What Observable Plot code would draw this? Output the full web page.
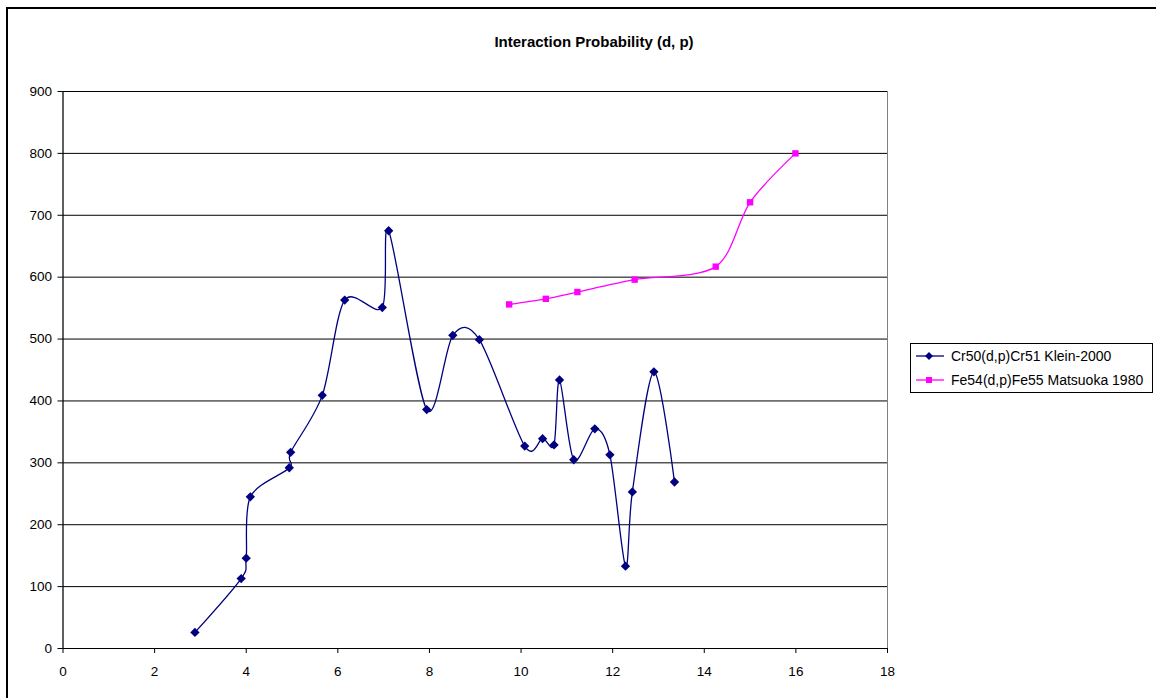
<!DOCTYPE html>
<html>
<head>
<meta charset="utf-8">
<script src="https://cdn.jsdelivr.net/npm/d3@7"></script>
<script src="https://cdn.jsdelivr.net/npm/@observablehq/plot@0.6"></script>
<style>
  html, body { margin: 0; padding: 0; background: #fff; }
  #wrap { position: relative; width: 1156px; height: 698px; overflow: hidden; font-family: "Liberation Sans", Arial, sans-serif; }
  #frame { position: absolute; left: 6px; top: 7px; width: 1200px; height: 800px; border-left: 2px solid #000; border-top: 2px solid #000; box-sizing: border-box; }
  #title { position: absolute; left: 0; width: 1188px; top: 33px; text-align: center; font-weight: bold; font-size: 15px; color: #000; }
  #legend { position: absolute; left: 910px; top: 343px; width: 243px; height: 50px; border: 1px solid #000; box-sizing: border-box; font-size: 14px; background: #fff; }
  .item { position: absolute; left: 4px; height: 16px; display: flex; align-items: center; white-space: nowrap; }
  .item svg { margin-right: 6px; }
  #plot { position: absolute; left: 0; top: 0; }
</style>
</head>
<body>
<div id="wrap">
  <div id="frame"></div>
  <div id="plot"></div>
  <div id="title">Interaction Probability (d, p)</div>
  <div id="legend"></div>
</div>
<script>
const crName = "Cr50(d,p)Cr51 Klein-2000";
const feName = "Fe54(d,p)Fe55 Matsuoka 1980";
const crX = [2.88, 3.89, 4.0, 4.09, 4.94, 4.97, 5.66, 6.15, 6.97, 7.11, 7.94, 8.51, 9.09, 10.08, 10.47, 10.72, 10.84, 11.15, 11.61, 11.94, 12.28, 12.43, 12.90, 13.35];
const crY = [26, 113, 146, 245, 292, 317, 409, 563, 551, 675, 386, 506, 499, 327, 339, 329, 434, 305, 355, 313, 133, 253, 447, 269];
const feX = [9.74, 10.54, 11.23, 12.48, 14.25, 15.0, 15.99];
const feY = [556, 565, 576, 596, 617, 721, 800];
const xTicks = [0, 2, 4, 6, 8, 10, 12, 14, 16, 18];
const yTicks = [0, 100, 200, 300, 400, 500, 600, 700, 800, 900];
const crColor = "#000080";
const feColor = "#FF00FF";

const cr = crX.map((x, i) => ({x, y: crY[i]}));
const fe = feX.map((x, i) => ({x, y: feY[i]}));

const chart = Plot.plot({
  width: 1156,
  height: 698,
  marginLeft: 62.5,
  marginRight: 269,
  marginTop: 91,
  marginBottom: 50,
  style: {fontFamily: "'Liberation Sans', Arial, sans-serif", fontSize: "13px", background: "transparent", color: "#000"},
  x: {domain: [0, 18], label: null},
  y: {domain: [0, 900], label: null},
  marks: [
    Plot.frame({stroke: "#808080", strokeWidth: 1}),
    Plot.gridY(yTicks.slice(1), {stroke: "#000", strokeOpacity: 1, strokeWidth: 1}),
    Plot.axisX(xTicks, {tickSize: 5, tickPadding: 13, fontSize: 13.5, label: null, stroke: "#000"}),
    Plot.axisY(yTicks, {tickSize: 5, tickPadding: 6, fontSize: 13.5, label: null, stroke: "#000"}),
    Plot.ruleY([0], {stroke: "#000", strokeWidth: 1}),
    Plot.ruleX([0], {stroke: "#000", strokeWidth: 1}),
    Plot.line(fe, {x: "x", y: "y", stroke: feColor, strokeWidth: 1.3, curve: "cardinal", tension: 0.1}),
    Plot.line(cr, {x: "x", y: "y", stroke: crColor, strokeWidth: 1.3, curve: "cardinal", tension: 0.1}),
    Plot.dot(fe, {x: "x", y: "y", symbol: "square", fill: feColor, r: 3.6}),
    Plot.dot(cr, {x: "x", y: "y", symbol: "diamond2", fill: crColor, r: 4.2})
  ]
});
document.getElementById("plot").appendChild(chart);

// legend
const legend = document.getElementById("legend");
[[crName, crColor, "diamond"], [feName, feColor, "square"]].forEach(([name, color, shape], i) => {
  const div = document.createElement("div");
  div.className = "item";
  div.style.top = (i === 0 ? 4 : 28) + "px";
  const marker = shape === "diamond"
    ? `<path d="M14,4 L18,8 L14,12 L10,8 Z" fill="${color}"/>`
    : `<rect x="11" y="5" width="6" height="6" fill="${color}"/>`;
  div.innerHTML = `<svg width="30" height="16"><line x1="1" x2="29" y1="8" y2="8" stroke="${color}" stroke-width="1.3"/>${marker}</svg><span>${name}</span>`;
  legend.appendChild(div);
});
</script>
</body>
</html>
